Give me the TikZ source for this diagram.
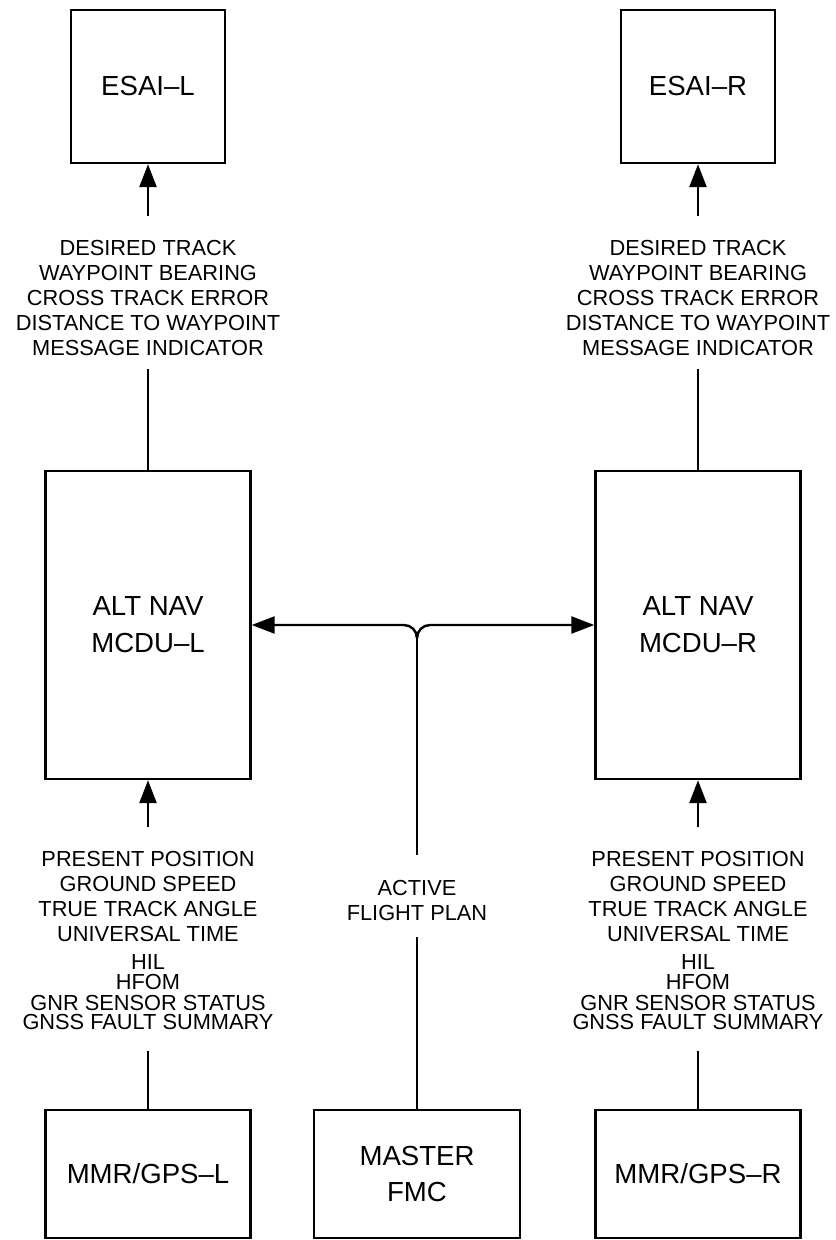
\documentclass[tikz,border=0pt]{standalone}
\usepackage{fontspec}
\setmainfont{Liberation Sans}
\usetikzlibrary{arrows.meta}
\begin{document}
\begin{tikzpicture}[x=0.02cm,y=-0.02cm,line width=1.4pt,
    box/.style={draw,inner sep=0pt,minimum width=4.1cm,align=center,
      font=\fontsize{15.7}{21}\selectfont},
    sig/.style={inner sep=0pt,anchor=north,align=center,
      font=\fontsize{12.4}{14.2}\selectfont},
    flow/.style={-{Triangle[length=0.46cm,width=0.34cm]}}]
  \useasboundingbox (0,0) rectangle (835,1240);
  % left and right channels
  \foreach \s/\x in {L/148,R/698}{
    \node[box,minimum width=3.08cm,minimum height=3.06cm] (esai\s) at (\x,86.5) {ESAI--\s};
    \node[box,minimum height=6.16cm] (mcdu\s) at (\x,625) {ALT NAV\\MCDU--\s};
    \node[box,minimum height=2.56cm] (mmr\s) at (\x,1174) {MMR/GPS--\s};
    \node[sig] (esaidata\s) at (\x,239) {DESIRED TRACK\\WAYPOINT BEARING\\CROSS TRACK ERROR\\DISTANCE TO WAYPOINT\\MESSAGE INDICATOR};
    \node[sig] (gpsdata\s) at (\x,850) {PRESENT POSITION\\GROUND SPEED\\TRUE TRACK ANGLE\\UNIVERSAL TIME\\[2pt]HIL\\[-3pt]HFOM\\[-2.4pt]GNR SENSOR STATUS\\[-3pt]GNSS FAULT SUMMARY};
    \draw[flow,shorten <=0.46cm] (esaidata\s.north) -- (esai\s.south);
    \draw[shorten >=0.24cm] (mcdu\s.north) -- (esaidata\s.south);
    \draw[flow,shorten <=0.46cm] (gpsdata\s.north) -- (mcdu\s.south);
    \draw[shorten >=0.4cm] (mmr\s.north) -- (gpsdata\s.south);
  }
  % master FMC and the flight plan bus
  \node[box,minimum width=4.12cm,minimum height=2.56cm] (fmc) at (417,1174) {MASTER\\FMC};
  \node[sig] (plan) at (417,879) {ACTIVE\\FLIGHT PLAN};
  \coordinate (junc) at (417,638);
  \draw[shorten >=0.3cm] (fmc.north) -- (plan.south);
  \draw[shorten <=0.48cm] (plan.north) -- (junc);
  \draw[flow] (junc) to[out=90,in=0] ++(-13,-13) -- (mcduL.east);
  \draw[flow] (junc) to[out=90,in=180] ++(13,-13) -- (mcduR.west);
\end{tikzpicture}
\end{document}
